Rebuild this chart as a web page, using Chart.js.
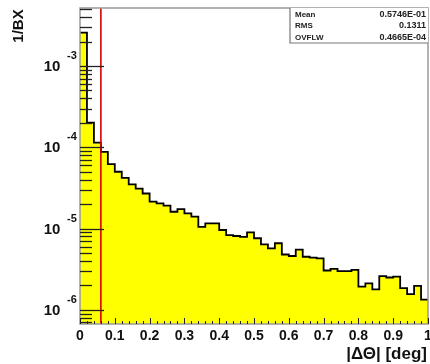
<!DOCTYPE html>
<html>
<head>
<meta charset="utf-8">
<script src="https://cdn.jsdelivr.net/npm/chart.js@4"></script>
<style>
  html, body { margin: 0; padding: 0; background: #fff; }
  canvas { display: block; }
</style>
</head>
<body>
<canvas id="histo" width="430" height="364"></canvas>
<script>
// histogram contents, 50 bins from 0 to 1
const binValues = [2.57e-3, 2.01e-4, 1.14e-4, 8.8e-5, 6.2e-5, 5.0e-5, 4.2e-5, 3.5e-5, 3.1e-5, 2.7e-5,
    2.14e-5, 2.04e-5, 1.92e-5, 1.61e-5, 1.73e-5, 1.54e-5, 1.40e-5, 1.05e-5, 1.16e-5, 1.16e-5,
    9.6e-6, 8.3e-6, 8.1e-6, 7.9e-6, 9.0e-6, 7.6e-6, 6.4e-6, 5.7e-6, 6.6e-6, 4.8e-6,
    4.6e-6, 5.5e-6, 4.5e-6, 4.4e-6, 4.3e-6, 3.05e-6, 3.2e-6, 3.0e-6, 3.0e-6, 3.1e-6,
    1.93e-6, 2.12e-6, 1.79e-6, 2.6e-6, 2.5e-6, 2.56e-6, 1.85e-6, 1.56e-6, 1.97e-6, 1.34e-6];
const xRange = [0, 1];
const yRange = [6.7e-7, 5.17e-3];
const cutValue = 0.06;
const xTickLabels = ['0', '0.1', '0.2', '0.3', '0.4', '0.5', '0.6', '0.7', '0.8', '0.9', '1'];
const yDecades = [-6, -5, -4, -3];
const statLabels = ['Mean', 'RMS', 'OVFLW'];
const statValues = ['0.5746E-01', '0.1311', '0.4665E-04'];
const xTitle = '|\u0394\u0398| [deg]';
const yTitle = '1/BX';

const FONT = '"Liberation Sans", Arial, Helvetica, sans-serif';

// step points: left edge of each bin, plus closing point at the right edge
const binWidth = (xRange[1] - xRange[0]) / binValues.length;
const stepPoints = binValues.map((v, i) => ({ x: xRange[0] + i * binWidth, y: v }));
stepPoints.push({ x: xRange[1], y: binValues[binValues.length - 1] });

// axes, ticks, labels and stats box (PAW style)
const pawFrame = {
    id: 'pawFrame',
    afterDraw(chart) {
        const ctx = chart.ctx;
        const xs = chart.scales.x, ys = chart.scales.y;
        const a = chart.chartArea;
        ctx.save();

        // frame
        ctx.strokeStyle = '#999';
        ctx.lineWidth = 1.5;
        ctx.strokeRect(a.left, a.top, a.right - a.left, a.bottom - a.top);

        // y ticks (inside)
        ctx.strokeStyle = '#222';
        ctx.lineWidth = 1.3;
        for (let e = -7; e <= -2; e++) {
            for (let k = 1; k <= 9; k++) {
                const v = k * Math.pow(10, e);
                if (v < yRange[0] || v > yRange[1]) continue;
                const py = Math.round(ys.getPixelForValue(v)) + 0.5;
                const len = k === 1 ? 24 : 12;
                ctx.beginPath();
                ctx.moveTo(a.left, py);
                ctx.lineTo(a.left + len, py);
                ctx.stroke();
            }
        }

        // x ticks (inside)
        ctx.lineWidth = 1;
        for (let i = 0; i <= 50; i++) {
            const px = Math.round(xs.getPixelForValue(i * 0.02)) + 0.5;
            const len = i % 5 === 0 ? 6 : 3;
            ctx.beginPath();
            ctx.moveTo(px, a.bottom);
            ctx.lineTo(px, a.bottom - len);
            ctx.stroke();
        }

        // x tick labels
        ctx.fillStyle = '#111';
        ctx.font = 'bold 14px ' + FONT;
        ctx.textAlign = 'center';
        ctx.textBaseline = 'middle';
        xTickLabels.forEach((t, i) => {
            const px = xs.getPixelForValue(i / (xTickLabels.length - 1));
            ctx.fillText(t, px, a.bottom + 12);
        });

        // y tick labels 10^n
        yDecades.forEach(e => {
            const py = ys.getPixelForValue(Math.pow(10, e));
            ctx.font = 'bold 15px ' + FONT;
            ctx.textAlign = 'center';
            ctx.fillText('10', 52, py + 1);
            ctx.font = 'bold 11px ' + FONT;
            ctx.fillText(String(e), 72, py - 10);
        });

        // axis titles
        ctx.font = 'bold 17px ' + FONT;
        ctx.textAlign = 'right';
        ctx.fillText(xTitle, a.right - 1, a.bottom + 30);

        ctx.save();
        ctx.translate(19, 26);
        ctx.rotate(-Math.PI / 2);
        ctx.font = 'bold 15px ' + FONT;
        ctx.textAlign = 'center';
        ctx.fillText(yTitle, 0, 0);
        ctx.restore();

        // stats box
        const bx = 290, bw = a.right - bx, bh = 35;
        ctx.fillStyle = '#fff';
        ctx.fillRect(bx, a.top, bw, bh);
        ctx.strokeStyle = '#777';
        ctx.lineWidth = 1.2;
        ctx.beginPath();
        ctx.moveTo(bx, a.top);
        ctx.lineTo(bx, a.top + bh);
        ctx.lineTo(a.right, a.top + bh);
        ctx.stroke();
        ctx.fillStyle = '#222';
        statLabels.forEach((lab, i) => {
            const py = a.top + 6.5 + i * 11.5;
            ctx.font = 'bold 8px ' + FONT;
            ctx.textAlign = 'left';
            ctx.fillText(lab, bx + 5, py);
            ctx.font = 'bold 9px ' + FONT;
            ctx.textAlign = 'right';
            ctx.fillText(statValues[i], a.right - 2, py);
        });

        ctx.restore();
    }
};

new Chart(document.getElementById('histo'), {
    type: 'line',
    data: {
        datasets: [
            {
                label: 'cut',
                data: [{ x: cutValue, y: yRange[0] }, { x: cutValue, y: yRange[1] }],
                borderColor: '#d40000',
                borderWidth: 1.6,
                pointRadius: 0,
                fill: false
            },
            {
                label: 'histo',
                data: stepPoints,
                stepped: true,
                borderColor: '#000',
                borderWidth: 1.8,
                backgroundColor: '#ffff00',
                pointRadius: 0,
                fill: 'start'
            }
        ]
    },
    options: {
        responsive: false,
        animation: false,
        devicePixelRatio: 1,
        layout: { padding: { left: 80, right: 2, top: 8, bottom: 40 } },
        plugins: { legend: { display: false }, tooltip: { enabled: false } },
        scales: {
            x: { type: 'linear', min: xRange[0], max: xRange[1], display: false },
            y: { type: 'logarithmic', min: yRange[0], max: yRange[1], display: false }
        }
    },
    plugins: [pawFrame]
});
</script>
</body>
</html>
